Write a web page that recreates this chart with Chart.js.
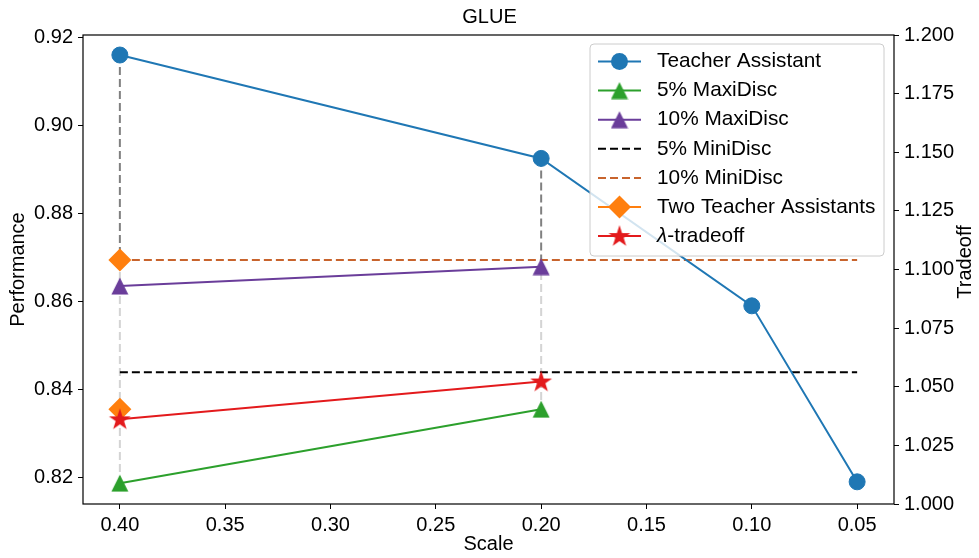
<!DOCTYPE html>
<html>
<head>
<meta charset="utf-8">
<script src="https://cdn.jsdelivr.net/npm/chart.js@4.4.0/dist/chart.umd.min.js"></script>
<style>
  html, body { margin: 0; padding: 0; background: #fff; }
</style>
</head>
<body>
<canvas id="c" width="979" height="558"></canvas>
<script>
// data
const scaleTA = [0.40, 0.20, 0.10, 0.05];
const perfTA = [0.9160, 0.8925, 0.8590, 0.8190];
const scaleMaxi = [0.40, 0.20];
const perfMaxi5 = [0.8187, 0.8355];
const perfMaxi10 = [0.8635, 0.8679];
const scaleMini = [0.40, 0.05];
const perfMini5 = [0.8439, 0.8439];
const perfMini10 = [0.8694, 0.8694];
const scaleTwoTA = [0.40, 0.40];
const perfTwoTA = [0.8694, 0.8355];
const scaleLambda = [0.40, 0.20];
const perfLambda = [0.8332, 0.8418];
// vertical guide lines at each scale: top -> mid (dark), mid -> low (light)
const guideScale = [0.40, 0.20];
const guideTop = [0.9160, 0.8925];
const guideMid = [0.8694, 0.8694];
const guideLow = [0.8187, 0.8355];

const xTicks = [0.40, 0.35, 0.30, 0.25, 0.20, 0.15, 0.10, 0.05];
const yTicks = [0.82, 0.84, 0.86, 0.88, 0.90, 0.92];
const y2Ticks = [1.000, 1.025, 1.050, 1.075, 1.100, 1.125, 1.150, 1.175, 1.200];

const pts = (xs, ys) => xs.map((x, i) => ({ x: x, y: ys[i] }));
function guidePts(from, to) {
  const out = [];
  guideScale.forEach((s, i) => {
    out.push({ x: s, y: from[i] }, { x: s, y: to[i] }, { x: s, y: null });
  });
  return out;
}

// marker images (matplotlib-like triangle and star)
function triImg(color) {
  const c = document.createElement('canvas');
  c.width = 18; c.height = 18;
  const g = c.getContext('2d');
  g.fillStyle = color;
  g.beginPath();
  g.moveTo(9, 0.5); g.lineTo(17.5, 17.5); g.lineTo(0.5, 17.5);
  g.closePath(); g.fill();
  return c;
}
function starImg(color) {
  const c = document.createElement('canvas');
  c.width = 24; c.height = 24;
  const g = c.getContext('2d');
  const R = 11.5, r = R * 0.382;
  g.fillStyle = color;
  g.beginPath();
  for (let i = 0; i < 10; i++) {
    const a = -Math.PI / 2 + i * Math.PI / 5;
    const rr = i % 2 ? r : R;
    g.lineTo(12 + rr * Math.cos(a), 12.5 + rr * Math.sin(a));
  }
  g.closePath(); g.fill();
  return c;
}

const BLUE = '#1f77b4', GREEN = '#2ca02c', PURPLE = '#6a3d9a', ORANGE = '#ff7f0e',
      RED = '#e31a1c', BROWN = '#c8642d';
const triGreen = triImg(GREEN), triPurple = triImg(PURPLE), starRed = starImg(RED);

Chart.defaults.font.family = '"Liberation Sans", Arial, sans-serif';
Chart.defaults.font.size = 20;
Chart.defaults.color = '#000';

const datasets = [
  { label: 'Teacher Assistant', data: pts(scaleTA, perfTA), borderColor: BLUE, backgroundColor: BLUE,
    pointStyle: 'circle', pointRadius: 8, pointBorderWidth: 1, borderWidth: 2, order: 5 },
  { label: '5% MaxiDisc', data: pts(scaleMaxi, perfMaxi5), borderColor: GREEN, backgroundColor: GREEN,
    pointStyle: triGreen, pointRadius: 9, borderWidth: 2, order: 4 },
  { label: '10% MaxiDisc', data: pts(scaleMaxi, perfMaxi10), borderColor: PURPLE, backgroundColor: PURPLE,
    pointStyle: triPurple, pointRadius: 9, borderWidth: 2, order: 3 },
  { label: '5% MiniDisc', data: pts(scaleMini, perfMini5), borderColor: '#000', borderDash: [8, 4],
    pointRadius: 0, borderWidth: 2, order: 6 },
  { label: '10% MiniDisc', data: pts(scaleMini, perfMini10), borderColor: BROWN, borderDash: [8, 4],
    pointRadius: 0, borderWidth: 2, order: 7 },
  { label: 'Two Teacher Assistants', data: pts(scaleTwoTA, perfTwoTA), borderColor: ORANGE, backgroundColor: ORANGE,
    pointStyle: 'rectRot', pointRadius: 11.5, pointBorderWidth: 0, showLine: false, borderWidth: 2, order: 2 },
  { label: 'λ-tradeoff', data: pts(scaleLambda, perfLambda), borderColor: RED, backgroundColor: RED,
    pointStyle: starRed, pointRadius: 11, borderWidth: 2, order: 1 },
  { label: 'guide dark', data: guidePts(guideTop, guideMid), borderColor: '#808080', borderDash: [8, 4],
    pointRadius: 0, borderWidth: 2, spanGaps: false, order: 9 },
  { label: 'guide light', data: guidePts(guideMid, guideLow), borderColor: '#d4d4d4', borderDash: [8, 4],
    pointRadius: 0, borderWidth: 2, spanGaps: false, order: 10 }
];

function drawMarker(ctx, ds, x, y) {
  const st = ds.pointStyle;
  ctx.save();
  ctx.fillStyle = ds.backgroundColor;
  if (st instanceof HTMLCanvasElement) {
    ctx.drawImage(st, x - st.width / 2, y - st.height / 2);
  } else if (st === 'circle') {
    ctx.beginPath(); ctx.arc(x, y, ds.pointRadius + 0.5, 0, Math.PI * 2); ctx.fill();
  } else if (st === 'rectRot') {
    const r = ds.pointRadius;
    ctx.beginPath();
    ctx.moveTo(x - r, y); ctx.lineTo(x, y - r); ctx.lineTo(x + r, y); ctx.lineTo(x, y + r);
    ctx.closePath(); ctx.fill();
  }
  ctx.restore();
}

const LEGEND_FONT = '20.8px "Liberation Sans", Arial, sans-serif';

const framePlugin = {
  id: 'frame',
  afterDatasetsDraw(chart) {
    const { ctx, chartArea: a } = chart;
    ctx.save();
    ctx.strokeStyle = '#000';
    ctx.lineWidth = 1.2;
    ctx.strokeRect(a.left, a.top, a.right - a.left, a.bottom - a.top);

    // legend
    const bx = 590, by = 44, bw = 294, bh = 212;
    ctx.beginPath();
    ctx.roundRect(bx, by, bw, bh, 4);
    ctx.fillStyle = 'rgba(255,255,255,0.8)';
    ctx.fill();
    ctx.strokeStyle = '#cccccc';
    ctx.lineWidth = 1;
    ctx.stroke();
    ctx.font = LEGEND_FONT;
    ctx.textBaseline = 'middle';
    for (let i = 0; i < 7; i++) {
      const ds = chart.data.datasets[i];
      const y = 61.5 + i * 29.1;
      ctx.save();
      ctx.strokeStyle = ds.borderColor;
      ctx.lineWidth = 2;
      ctx.setLineDash(ds.borderDash || []);
      ctx.beginPath(); ctx.moveTo(598, y); ctx.lineTo(641, y); ctx.stroke();
      ctx.restore();
      if (ds.pointRadius) drawMarker(ctx, ds, 619.5, y);
      ctx.fillStyle = '#000';
      if (ds.label.startsWith('λ')) {
        ctx.font = 'italic ' + LEGEND_FONT;
        ctx.fillText('λ', 657, y);
        const w = ctx.measureText('λ').width;
        ctx.font = LEGEND_FONT;
        ctx.fillText(ds.label.slice(1), 657 + w, y);
      } else {
        ctx.fillText(ds.label, 657, y);
      }
    }

    // right axis title, reading bottom to top
    ctx.font = '20px "Liberation Sans", Arial, sans-serif';
    ctx.translate(965, 262);
    ctx.rotate(-Math.PI / 2);
    ctx.textAlign = 'center';
    ctx.fillText('Tradeoff', 0, 0);
    ctx.restore();
  }
};

const tickGrid = { drawOnChartArea: false, color: '#000', tickLength: 5 };

new Chart(document.getElementById('c'), {
  type: 'line',
  data: { datasets: datasets },
  options: {
    responsive: false,
    animation: false,
    layout: { padding: 0 },
    plugins: {
      legend: { display: false },
      tooltip: { enabled: false },
      title: { display: true, text: 'GLUE', font: { size: 20, weight: 'normal' }, color: '#000',
               padding: { top: 5, bottom: 6 } }
    },
    scales: {
      x: {
        type: 'linear', reverse: true, min: 0.0325, max: 0.4175,
        afterBuildTicks: s => { s.ticks = xTicks.map(v => ({ value: v })); },
        afterFit: s => { s.height = 54; },
        ticks: { callback: v => v.toFixed(2), padding: 4, maxRotation: 0, autoSkip: false },
        grid: tickGrid, border: { display: false },
        title: { display: true, text: 'Scale', padding: { top: 0, bottom: 2 } }
      },
      y: {
        position: 'left', min: 0.81396, max: 0.92055,
        afterBuildTicks: s => { s.ticks = yTicks.map(v => ({ value: v })); },
        afterFit: s => { s.width = 83; },
        ticks: { callback: v => v.toFixed(2), padding: 5, autoSkip: false },
        grid: tickGrid, border: { display: false },
        title: { display: true, text: 'Performance', padding: { top: 6, bottom: 0 } }
      },
      y2: {
        position: 'right', min: 1.0, max: 1.2,
        afterBuildTicks: s => { s.ticks = y2Ticks.map(v => ({ value: v })); },
        afterFit: s => { s.width = 85; },
        ticks: { callback: v => v.toFixed(3), padding: 5, autoSkip: false },
        grid: tickGrid, border: { display: false }
      }
    }
  },
  plugins: [framePlugin]
});
</script>
</body>
</html>
